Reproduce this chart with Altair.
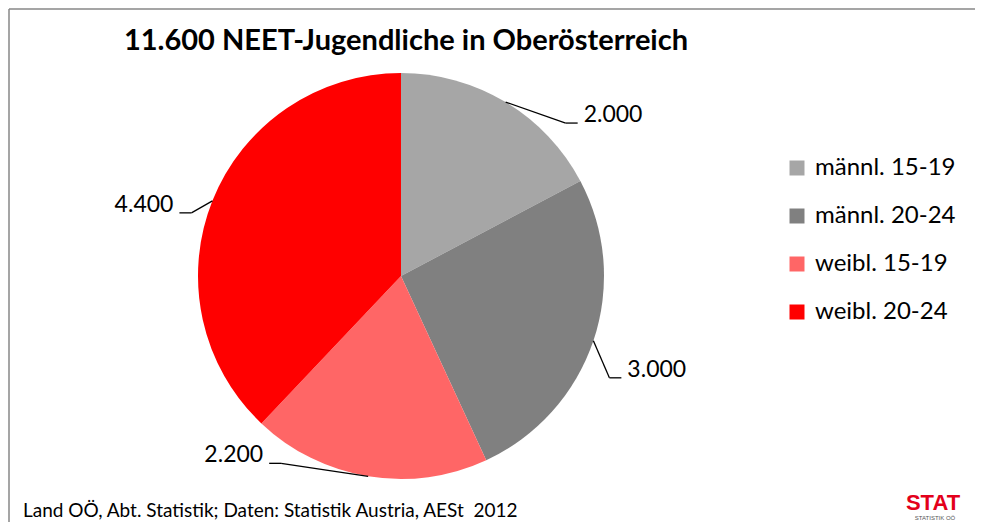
import altair as alt
import pandas as pd
import numpy as np

# ---- data ----
categories = ["männl. 15-19", "männl. 20-24", "weibl. 15-19", "weibl. 20-24"]
values = [2000, 3000, 2200, 4400]
value_labels = ["2.000", "3.000", "2.200", "4.400"]
colors = ["#A6A6A6", "#808080", "#FF6666", "#FF0000"]
title_text = "11.600 NEET-Jugendliche in Oberösterreich"
source_text = "Land OÖ, Abt. Statistik; Daten: Statistik Austria, AESt \u00a02012"

# ---- styling / layout (page pixel units) ----
CX, CY, R = 400, 275, 203
elbow_offsets = [(60, 21), (16, 37), (-87, -13), (-21, 12)]
FONT = "Lato"

df = pd.DataFrame({"cat": categories, "value": values, "lab": value_labels,
                   "order": range(len(values))})
total = float(sum(values))
cum = np.cumsum(values)
mid = (cum - np.array(values) / 2) / total * 2 * np.pi
ex = CX + R * np.sin(mid)
ey = CY - R * np.cos(mid)
bx = ex + np.array([o[0] for o in elbow_offsets])
by = ey + np.array([o[1] for o in elbow_offsets])
side = np.where(bx > CX, 1, -1)
hx = bx + side * 12
df["ex"], df["ey"], df["bx"], df["by"], df["hx"] = ex, ey, bx, by, hx
df["tx"] = hx + side * 6
df["ty"] = by - 8
df["align"] = np.where(side > 0, "left", "right")

xs = alt.Scale(domain=[8, 975], range=[0, 967])
ys = alt.Scale(domain=[8, 522], range=[0, 514])

pie = alt.Chart(df).mark_arc(radius=R, stroke=None).encode(
    theta=alt.Theta("value:Q", stack=True),
    order=alt.Order("order:Q"),
    color=alt.Color("cat:N", scale=alt.Scale(domain=categories, range=colors),
                    sort=categories,
                    legend=alt.Legend(title=None, orient="none", legendX=776, legendY=147,
                                      symbolType="square", symbolSize=225,
                                      symbolStrokeWidth=0, labelFont=FONT,
                                      labelFontSize=24, labelColor="#000000",
                                      rowPadding=24, labelOffset=6)),
    x=alt.value(CX - 8), y=alt.value(CY - 8),
)

lead1 = alt.Chart(df).mark_rule(color="#000000", strokeWidth=1.3).encode(
    x=alt.X("ex:Q", scale=xs, axis=None), y=alt.Y("ey:Q", scale=ys, axis=None),
    x2="bx:Q", y2="by:Q")
lead2 = alt.Chart(df).mark_rule(color="#000000", strokeWidth=1.3).encode(
    x=alt.X("bx:Q", scale=xs, axis=None), y=alt.Y("by:Q", scale=ys, axis=None),
    x2="hx:Q", y2="by:Q")

lab_r = alt.Chart(df[df["align"] == "left"]).mark_text(
    align="left", baseline="middle", font=FONT, fontSize=23, color="#000000").encode(
    x=alt.X("tx:Q", scale=xs, axis=None), y=alt.Y("ty:Q", scale=ys, axis=None), text="lab:N")
lab_l = alt.Chart(df[df["align"] == "right"]).mark_text(
    align="right", baseline="middle", font=FONT, fontSize=23, color="#000000").encode(
    x=alt.X("tx:Q", scale=xs, axis=None), y=alt.Y("ty:Q", scale=ys, axis=None), text="lab:N")

one = pd.DataFrame({"t": [title_text]})
title = alt.Chart(one).mark_text(font=FONT, fontSize=29, fontWeight="bold",
                                 color="#000000", align="center", baseline="middle").encode(
    x=alt.value(397), y=alt.value(32), text="t:N")

src = alt.Chart(pd.DataFrame({"t": [source_text]})).mark_text(
    font=FONT, fontSize=19, color="#000000", align="left", baseline="middle").encode(
    x=alt.value(14), y=alt.value(502), text="t:N")

logo1 = alt.Chart(pd.DataFrame({"t": ["STAT"]})).mark_text(
    font="Liberation Sans", fontSize=22, fontWeight="bold", color="#E3001B",
    align="center", baseline="middle").encode(x=alt.value(924), y=alt.value(494), text="t:N")
logo2 = alt.Chart(pd.DataFrame({"t": ["STATISTIK OÖ"]})).mark_text(
    font="Liberation Sans", fontSize=6, color="#555555",
    align="center", baseline="middle").encode(x=alt.value(926), y=alt.value(509), text="t:N")

border = pd.DataFrame({"x": [0, 0, 967], "x2": [0, 967, 967], "y": [0, 0, 0], "y2": [530, 0, 530]})
frame = alt.Chart(border).mark_rule(color="#878787", strokeWidth=1.5).encode(
    x=alt.X("x:Q", scale=alt.Scale(domain=[0, 967], range=[0, 967]), axis=None),
    x2="x2:Q",
    y=alt.Y("y:Q", scale=alt.Scale(domain=[0, 514], range=[0, 514]), axis=None),
    y2="y2:Q")

chart = alt.layer(pie, lead1, lead2, lab_r, lab_l, title, src, logo1, logo2, frame).resolve_scale(
    x="independent", y="independent"
).properties(
    width=967, height=514, padding=0,
    autosize=alt.AutoSizeParams(type="fit", contains="padding"),
    background="#FFFFFF",
).configure_view(stroke=None)

chart.save("out.html", embed_options={"renderer": "svg", "actions": False})
